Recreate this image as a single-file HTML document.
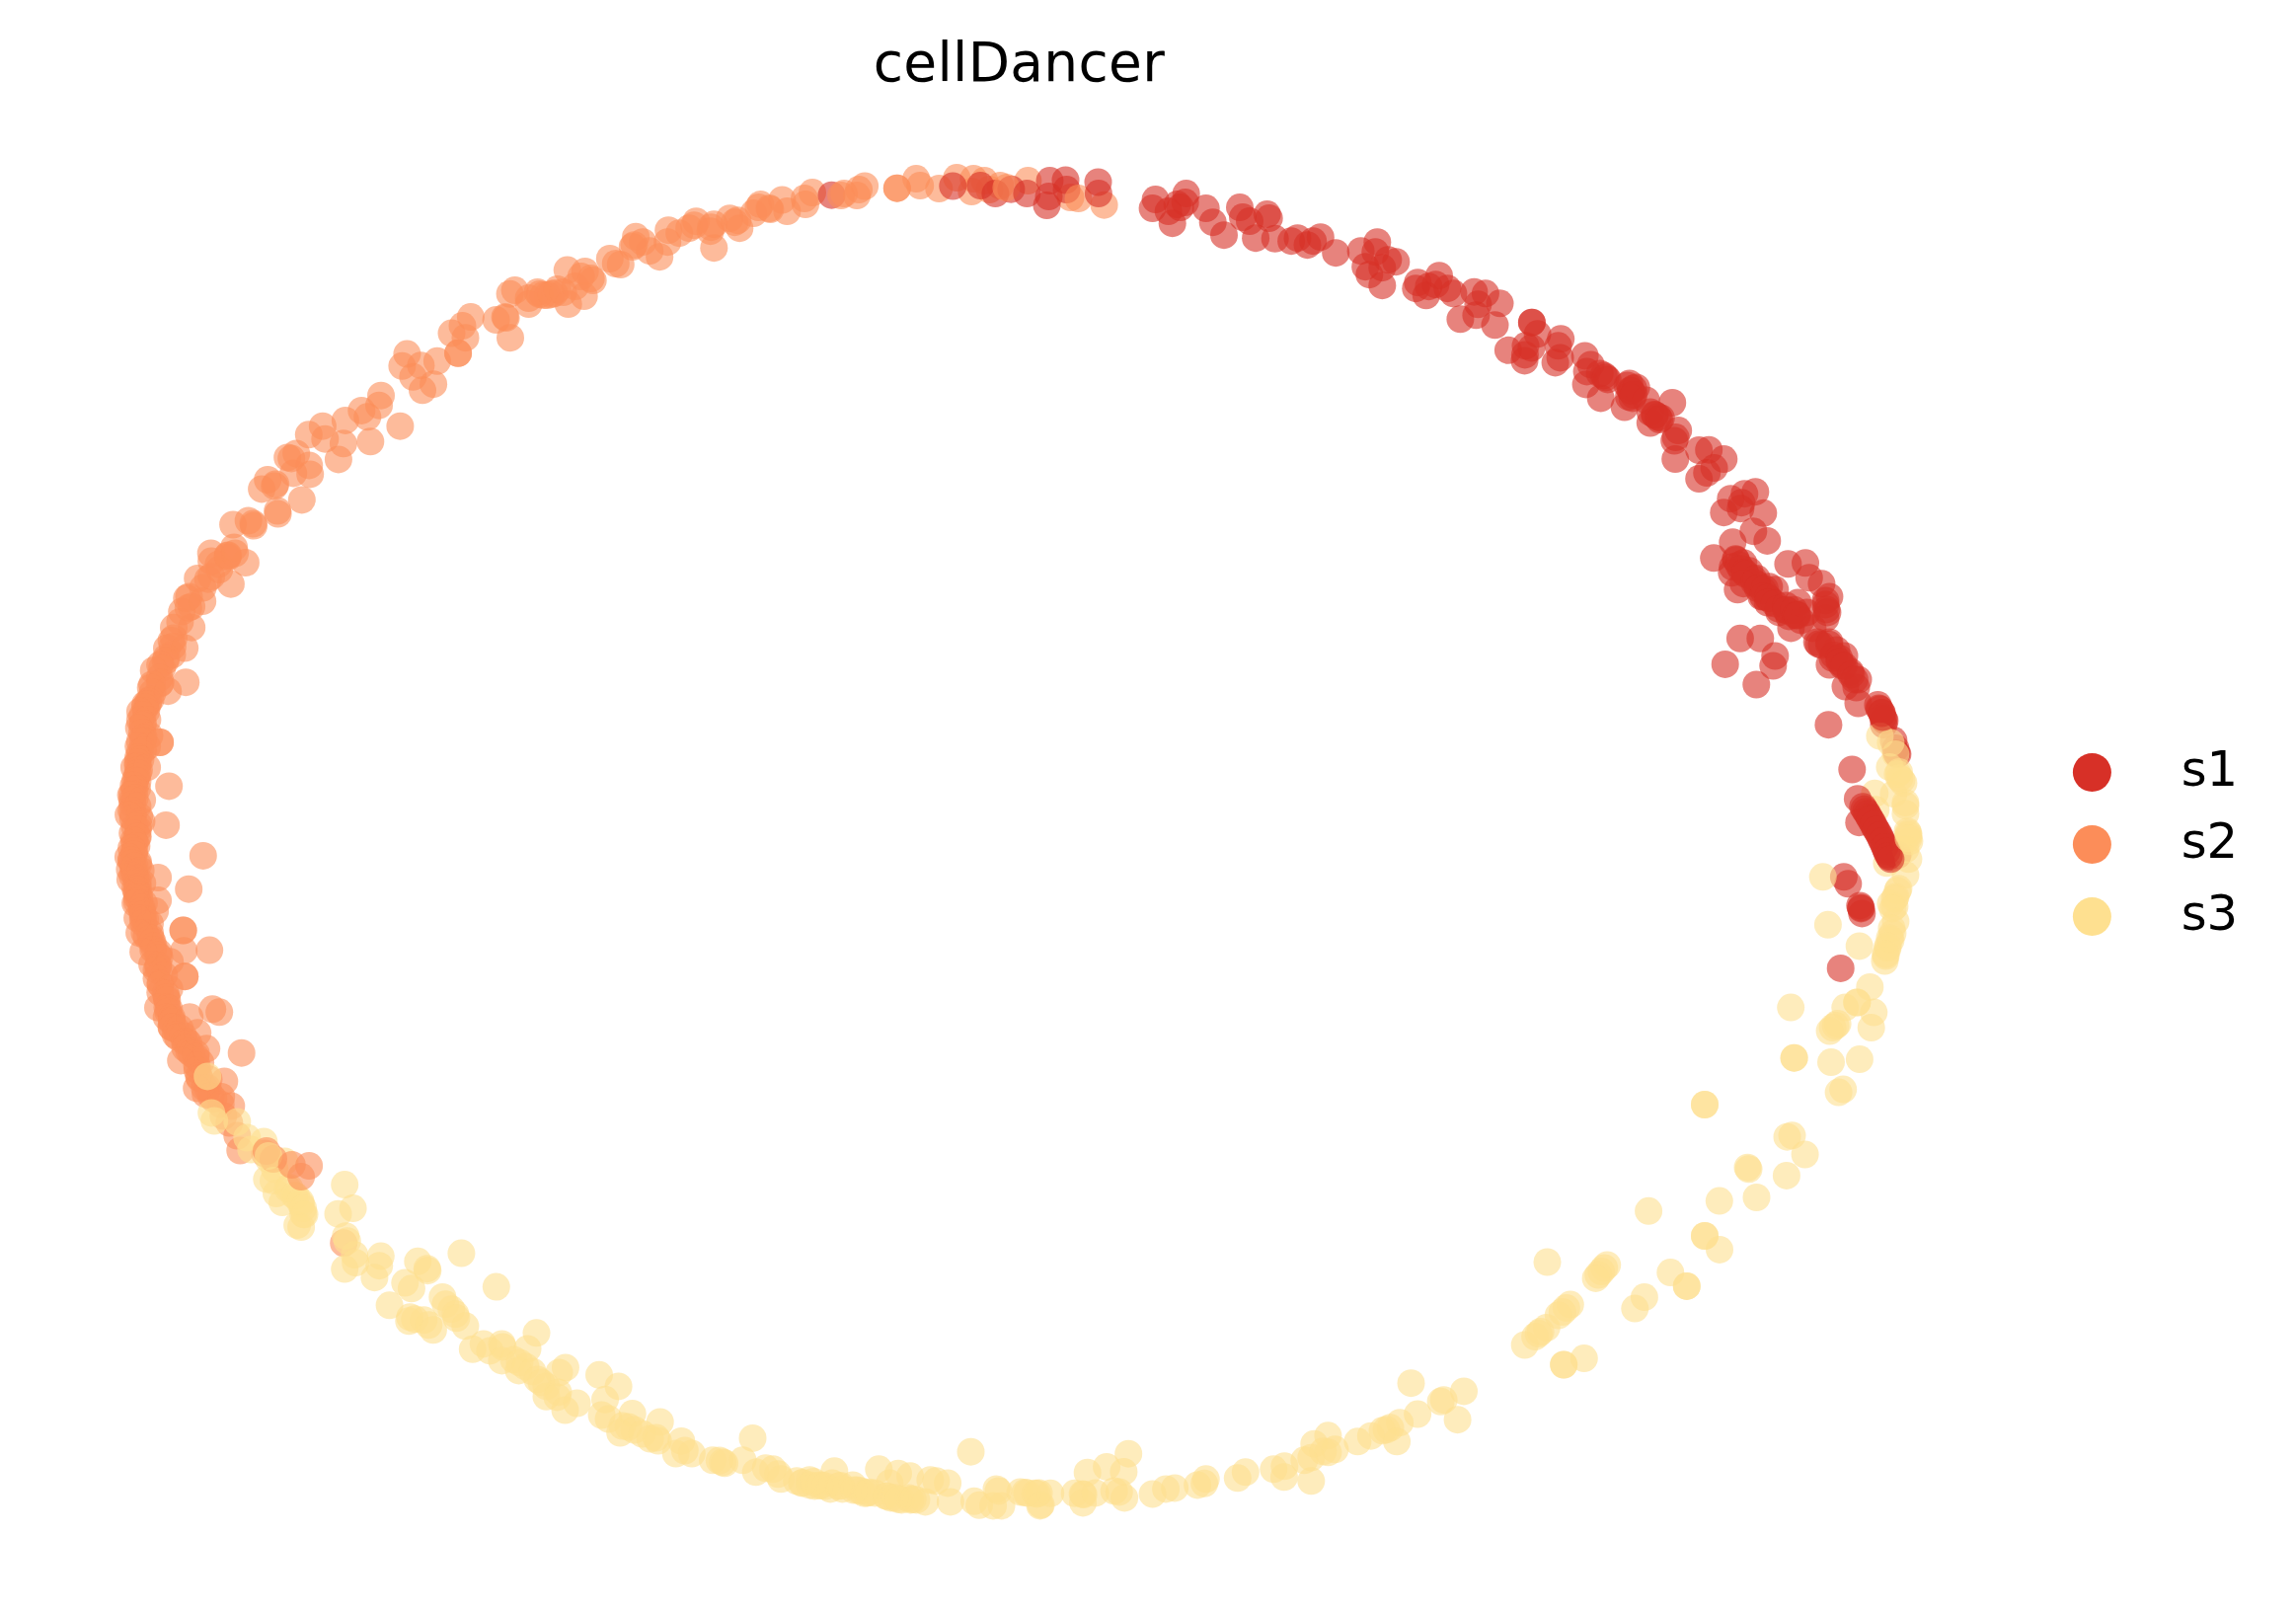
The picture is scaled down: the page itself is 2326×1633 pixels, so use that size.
<!DOCTYPE html><html><head><meta charset="utf-8"><title>cellDancer</title>
<style>html,body{margin:0;padding:0;background:#fff}body{width:2326px;height:1633px;overflow:hidden}svg{display:block}text{font-family:"DejaVu Sans","Liberation Sans",sans-serif;fill:#000}</style></head><body>
<svg width="2326" height="1633" viewBox="0 0 2326 1633">
<rect width="2326" height="1633" fill="#fff"/>
<g fill-opacity="0.6">
<circle cx="644.1" cy="239.8" r="14" fill="#fc8d59"/>
<circle cx="642.5" cy="248.2" r="14" fill="#fc8d59"/>
<circle cx="651.2" cy="245.2" r="14" fill="#fc8d59"/>
<circle cx="658.2" cy="254.2" r="14" fill="#fc8d59"/>
<circle cx="668.2" cy="260.2" r="14" fill="#fc8d59"/>
<circle cx="677.2" cy="233.2" r="14" fill="#fc8d59"/>
<circle cx="676.2" cy="245.2" r="14" fill="#fc8d59"/>
<circle cx="688.2" cy="236.2" r="14" fill="#fc8d59"/>
<circle cx="698.2" cy="231.2" r="14" fill="#fc8d59"/>
<circle cx="703.2" cy="228.2" r="14" fill="#fc8d59"/>
<circle cx="705.3" cy="224.2" r="14" fill="#fc8d59"/>
<circle cx="720.3" cy="230.2" r="14" fill="#fc8d59"/>
<circle cx="723.3" cy="227.2" r="14" fill="#fc8d59"/>
<circle cx="719.7" cy="234.2" r="14" fill="#fc8d59"/>
<circle cx="723.3" cy="251.2" r="14" fill="#fc8d59"/>
<circle cx="739.3" cy="221.2" r="14" fill="#fc8d59"/>
<circle cx="744.3" cy="225.2" r="14" fill="#fc8d59"/>
<circle cx="747.3" cy="223.2" r="14" fill="#fc8d59"/>
<circle cx="749.3" cy="231.2" r="14" fill="#fc8d59"/>
<circle cx="763.4" cy="216.1" r="14" fill="#fc8d59"/>
<circle cx="770.4" cy="207.1" r="14" fill="#fc8d59"/>
<circle cx="768.4" cy="210.1" r="14" fill="#fc8d59"/>
<circle cx="779.4" cy="211.1" r="14" fill="#fc8d59"/>
<circle cx="780.4" cy="212.1" r="14" fill="#fc8d59"/>
<circle cx="792.4" cy="202.5" r="14" fill="#fc8d59"/>
<circle cx="797.4" cy="214.1" r="14" fill="#fc8d59"/>
<circle cx="816.0" cy="207.1" r="14" fill="#fc8d59"/>
<circle cx="815.0" cy="201.1" r="14" fill="#fc8d59"/>
<circle cx="823.0" cy="195.1" r="14" fill="#fc8d59"/>
<circle cx="842.5" cy="197.7" r="14" fill="#d73027"/>
<circle cx="852.1" cy="198.1" r="14" fill="#fc8d59"/>
<circle cx="855.1" cy="196.1" r="14" fill="#fc8d59"/>
<circle cx="868.1" cy="198.1" r="14" fill="#fc8d59"/>
<circle cx="870.1" cy="192.1" r="14" fill="#fc8d59"/>
<circle cx="876.1" cy="188.5" r="14" fill="#fc8d59"/>
<circle cx="908.8" cy="190.7" r="14" fill="#fc8d59"/>
<circle cx="908.8" cy="190.7" r="14" fill="#fc8d59"/>
<circle cx="928.2" cy="181.1" r="14" fill="#fc8d59"/>
<circle cx="932.2" cy="188.1" r="14" fill="#fc8d59"/>
<circle cx="951.3" cy="191.1" r="14" fill="#fc8d59"/>
<circle cx="969.3" cy="180.1" r="14" fill="#fc8d59"/>
<circle cx="984.3" cy="194.1" r="14" fill="#fc8d59"/>
<circle cx="986.3" cy="181.1" r="14" fill="#fc8d59"/>
<circle cx="997.3" cy="183.1" r="14" fill="#fc8d59"/>
<circle cx="1002.4" cy="192.1" r="14" fill="#fc8d59"/>
<circle cx="1013.4" cy="188.1" r="14" fill="#fc8d59"/>
<circle cx="1041.4" cy="183.1" r="14" fill="#fc8d59"/>
<circle cx="965.3" cy="188.5" r="14" fill="#d73027"/>
<circle cx="993.3" cy="188.1" r="14" fill="#d73027"/>
<circle cx="1008.4" cy="196.1" r="14" fill="#d73027"/>
<circle cx="1024.4" cy="191.7" r="14" fill="#d73027"/>
<circle cx="1019.4" cy="190.1" r="14" fill="#fc8d59"/>
<circle cx="1084.5" cy="200.1" r="14" fill="#fc8d59"/>
<circle cx="1040.4" cy="196.1" r="14" fill="#d73027"/>
<circle cx="1063.5" cy="183.1" r="14" fill="#d73027"/>
<circle cx="1079.5" cy="182.5" r="14" fill="#d73027"/>
<circle cx="1080.5" cy="192.1" r="14" fill="#d73027"/>
<circle cx="1060.5" cy="208.1" r="14" fill="#d73027"/>
<circle cx="1062.5" cy="199.1" r="14" fill="#d73027"/>
<circle cx="1092.5" cy="201.1" r="14" fill="#fc8d59"/>
<circle cx="1118.6" cy="207.7" r="14" fill="#fc8d59"/>
<circle cx="1112.5" cy="184.5" r="14" fill="#d73027"/>
<circle cx="1112.9" cy="196.1" r="14" fill="#d73027"/>
<circle cx="1170.6" cy="202.1" r="14" fill="#d73027"/>
<circle cx="1167.6" cy="211.1" r="14" fill="#d73027"/>
<circle cx="1183.7" cy="214.1" r="14" fill="#d73027"/>
<circle cx="1187.7" cy="226.2" r="14" fill="#d73027"/>
<circle cx="1192.7" cy="207.1" r="14" fill="#d73027"/>
<circle cx="1201.7" cy="196.1" r="14" fill="#d73027"/>
<circle cx="1200.7" cy="205.1" r="14" fill="#d73027"/>
<circle cx="1195.7" cy="210.1" r="14" fill="#d73027"/>
<circle cx="1221.7" cy="211.1" r="14" fill="#d73027"/>
<circle cx="1228.7" cy="225.2" r="14" fill="#d73027"/>
<circle cx="1240.0" cy="238.2" r="14" fill="#d73027"/>
<circle cx="1256.0" cy="210.1" r="14" fill="#d73027"/>
<circle cx="1259.0" cy="220.1" r="14" fill="#d73027"/>
<circle cx="1266.0" cy="224.1" r="14" fill="#d73027"/>
<circle cx="1272.1" cy="241.2" r="14" fill="#d73027"/>
<circle cx="1283.7" cy="217.1" r="14" fill="#d73027"/>
<circle cx="1285.7" cy="221.1" r="14" fill="#d73027"/>
<circle cx="1291.7" cy="241.8" r="14" fill="#d73027"/>
<circle cx="1308.1" cy="244.2" r="14" fill="#d73027"/>
<circle cx="1314.5" cy="241.2" r="14" fill="#d73027"/>
<circle cx="1324.5" cy="248.2" r="14" fill="#d73027"/>
<circle cx="1330.2" cy="244.2" r="14" fill="#d73027"/>
<circle cx="1337.8" cy="240.2" r="14" fill="#d73027"/>
<circle cx="1353.2" cy="256.2" r="14" fill="#d73027"/>
<circle cx="1378.6" cy="254.2" r="14" fill="#d73027"/>
<circle cx="1383.2" cy="270.2" r="14" fill="#d73027"/>
<circle cx="1387.3" cy="278.2" r="14" fill="#d73027"/>
<circle cx="1393.3" cy="255.2" r="14" fill="#d73027"/>
<circle cx="1395.3" cy="245.2" r="14" fill="#d73027"/>
<circle cx="1400.3" cy="271.2" r="14" fill="#d73027"/>
<circle cx="1406.3" cy="263.2" r="14" fill="#d73027"/>
<circle cx="1414.3" cy="265.2" r="14" fill="#d73027"/>
<circle cx="1400.3" cy="289.2" r="14" fill="#d73027"/>
<circle cx="1434.3" cy="292.2" r="14" fill="#d73027"/>
<circle cx="1436.3" cy="286.2" r="14" fill="#d73027"/>
<circle cx="1444.8" cy="299.3" r="14" fill="#d73027"/>
<circle cx="1447.4" cy="290.2" r="14" fill="#d73027"/>
<circle cx="1454.4" cy="288.2" r="14" fill="#d73027"/>
<circle cx="1458.0" cy="279.2" r="14" fill="#d73027"/>
<circle cx="1466.4" cy="292.2" r="14" fill="#d73027"/>
<circle cx="1472.4" cy="297.3" r="14" fill="#d73027"/>
<circle cx="1479.4" cy="323.3" r="14" fill="#d73027"/>
<circle cx="1493.4" cy="295.7" r="14" fill="#d73027"/>
<circle cx="1497.4" cy="308.3" r="14" fill="#d73027"/>
<circle cx="1495.4" cy="319.3" r="14" fill="#d73027"/>
<circle cx="1504.9" cy="297.3" r="14" fill="#d73027"/>
<circle cx="1519.5" cy="307.3" r="14" fill="#d73027"/>
<circle cx="1514.5" cy="329.3" r="14" fill="#d73027"/>
<circle cx="1527.9" cy="354.8" r="14" fill="#d73027"/>
<circle cx="1551.9" cy="326.7" r="14" fill="#d73027"/>
<circle cx="1551.9" cy="326.7" r="14" fill="#d73027"/>
<circle cx="1557.6" cy="338.3" r="14" fill="#d73027"/>
<circle cx="1545.5" cy="350.3" r="14" fill="#d73027"/>
<circle cx="1544.9" cy="359.4" r="14" fill="#d73027"/>
<circle cx="1544.5" cy="365.4" r="14" fill="#d73027"/>
<circle cx="1551.5" cy="352.4" r="14" fill="#d73027"/>
<circle cx="1578.6" cy="350.3" r="14" fill="#d73027"/>
<circle cx="1581.2" cy="343.3" r="14" fill="#d73027"/>
<circle cx="1580.6" cy="362.4" r="14" fill="#d73027"/>
<circle cx="1575.6" cy="367.4" r="14" fill="#d73027"/>
<circle cx="1605.6" cy="360.4" r="14" fill="#d73027"/>
<circle cx="1611.6" cy="369.4" r="14" fill="#d73027"/>
<circle cx="1607.6" cy="376.4" r="14" fill="#d73027"/>
<circle cx="1606.6" cy="389.4" r="14" fill="#d73027"/>
<circle cx="1621.7" cy="403.4" r="14" fill="#d73027"/>
<circle cx="1624.7" cy="380.4" r="14" fill="#d73027"/>
<circle cx="1628.7" cy="384.4" r="14" fill="#d73027"/>
<circle cx="1620.7" cy="378.4" r="14" fill="#d73027"/>
<circle cx="1626.7" cy="382.4" r="14" fill="#d73027"/>
<circle cx="1648.7" cy="390.4" r="14" fill="#d73027"/>
<circle cx="1654.7" cy="393.4" r="14" fill="#d73027"/>
<circle cx="1651.7" cy="395.4" r="14" fill="#d73027"/>
<circle cx="1676.8" cy="420.5" r="14" fill="#d73027"/>
<circle cx="1682.8" cy="423.5" r="14" fill="#d73027"/>
<circle cx="1645.7" cy="412.5" r="14" fill="#d73027"/>
<circle cx="1650.7" cy="388.4" r="14" fill="#d73027"/>
<circle cx="1652.7" cy="396.4" r="14" fill="#d73027"/>
<circle cx="1657.7" cy="392.4" r="14" fill="#d73027"/>
<circle cx="1653.7" cy="403.4" r="14" fill="#d73027"/>
<circle cx="1667.7" cy="405.4" r="14" fill="#d73027"/>
<circle cx="1671.8" cy="417.5" r="14" fill="#d73027"/>
<circle cx="1671.8" cy="428.5" r="14" fill="#d73027"/>
<circle cx="1679.8" cy="422.5" r="14" fill="#d73027"/>
<circle cx="1694.2" cy="408.0" r="14" fill="#d73027"/>
<circle cx="1700.2" cy="436.1" r="14" fill="#d73027"/>
<circle cx="1697.6" cy="443.1" r="14" fill="#d73027"/>
<circle cx="1696.2" cy="446.5" r="14" fill="#d73027"/>
<circle cx="1697.2" cy="465.1" r="14" fill="#d73027"/>
<circle cx="1721.2" cy="456.1" r="14" fill="#d73027"/>
<circle cx="1731.2" cy="455.7" r="14" fill="#d73027"/>
<circle cx="1746.3" cy="465.1" r="14" fill="#d73027"/>
<circle cx="1736.6" cy="474.1" r="14" fill="#d73027"/>
<circle cx="1729.2" cy="479.1" r="14" fill="#d73027"/>
<circle cx="1721.2" cy="485.1" r="14" fill="#d73027"/>
<circle cx="1753.3" cy="505.2" r="14" fill="#d73027"/>
<circle cx="1767.3" cy="500.2" r="14" fill="#d73027"/>
<circle cx="1778.3" cy="498.2" r="14" fill="#d73027"/>
<circle cx="1764.3" cy="509.2" r="14" fill="#d73027"/>
<circle cx="1763.3" cy="515.2" r="14" fill="#d73027"/>
<circle cx="1746.3" cy="519.2" r="14" fill="#d73027"/>
<circle cx="1786.3" cy="519.8" r="14" fill="#d73027"/>
<circle cx="1776.3" cy="538.2" r="14" fill="#d73027"/>
<circle cx="1790.3" cy="547.9" r="14" fill="#d73027"/>
<circle cx="1755.3" cy="549.3" r="14" fill="#d73027"/>
<circle cx="1736.2" cy="565.3" r="14" fill="#d73027"/>
<circle cx="1758.3" cy="566.3" r="14" fill="#d73027"/>
<circle cx="1766.3" cy="570.3" r="14" fill="#d73027"/>
<circle cx="1755.3" cy="574.3" r="14" fill="#d73027"/>
<circle cx="1754.3" cy="580.3" r="14" fill="#d73027"/>
<circle cx="1772.3" cy="578.3" r="14" fill="#d73027"/>
<circle cx="1760.3" cy="597.3" r="14" fill="#d73027"/>
<circle cx="1776.3" cy="586.3" r="14" fill="#d73027"/>
<circle cx="1780.3" cy="592.3" r="14" fill="#d73027"/>
<circle cx="1786.3" cy="598.3" r="14" fill="#d73027"/>
<circle cx="1792.3" cy="594.3" r="14" fill="#d73027"/>
<circle cx="1798.3" cy="597.3" r="14" fill="#d73027"/>
<circle cx="1784.3" cy="604.4" r="14" fill="#d73027"/>
<circle cx="1792.3" cy="606.4" r="14" fill="#d73027"/>
<circle cx="1811.4" cy="571.3" r="14" fill="#d73027"/>
<circle cx="1829.0" cy="570.3" r="14" fill="#d73027"/>
<circle cx="1832.8" cy="585.3" r="14" fill="#d73027"/>
<circle cx="1845.4" cy="591.3" r="14" fill="#d73027"/>
<circle cx="1853.4" cy="604.4" r="14" fill="#d73027"/>
<circle cx="1849.4" cy="608.4" r="14" fill="#d73027"/>
<circle cx="1850.4" cy="617.4" r="14" fill="#d73027"/>
<circle cx="1849.4" cy="626.4" r="14" fill="#d73027"/>
<circle cx="1821.4" cy="610.4" r="14" fill="#d73027"/>
<circle cx="1810.4" cy="618.4" r="14" fill="#d73027"/>
<circle cx="1802.4" cy="620.4" r="14" fill="#d73027"/>
<circle cx="1812.4" cy="624.4" r="14" fill="#d73027"/>
<circle cx="1820.4" cy="622.4" r="14" fill="#d73027"/>
<circle cx="1830.4" cy="620.4" r="14" fill="#d73027"/>
<circle cx="1824.4" cy="628.4" r="14" fill="#d73027"/>
<circle cx="1814.4" cy="636.4" r="14" fill="#d73027"/>
<circle cx="1836.4" cy="636.4" r="14" fill="#d73027"/>
<circle cx="1842.4" cy="652.4" r="14" fill="#d73027"/>
<circle cx="1853.4" cy="650.4" r="14" fill="#d73027"/>
<circle cx="1860.5" cy="658.4" r="14" fill="#d73027"/>
<circle cx="1868.5" cy="664.5" r="14" fill="#d73027"/>
<circle cx="1856.4" cy="666.5" r="14" fill="#d73027"/>
<circle cx="1853.4" cy="673.5" r="14" fill="#d73027"/>
<circle cx="1866.5" cy="674.5" r="14" fill="#d73027"/>
<circle cx="1874.5" cy="680.5" r="14" fill="#d73027"/>
<circle cx="1882.5" cy="688.5" r="14" fill="#d73027"/>
<circle cx="1869.5" cy="695.5" r="14" fill="#d73027"/>
<circle cx="1880.5" cy="696.5" r="14" fill="#d73027"/>
<circle cx="1882.5" cy="712.5" r="14" fill="#d73027"/>
<circle cx="1903.5" cy="717.6" r="14" fill="#d73027"/>
<circle cx="1908.5" cy="728.6" r="14" fill="#d73027"/>
<circle cx="1852.4" cy="734.2" r="14" fill="#d73027"/>
<circle cx="1762.9" cy="646.8" r="14" fill="#d73027"/>
<circle cx="1783.3" cy="646.8" r="14" fill="#d73027"/>
<circle cx="1798.3" cy="664.5" r="14" fill="#d73027"/>
<circle cx="1796.3" cy="674.5" r="14" fill="#d73027"/>
<circle cx="1747.7" cy="672.9" r="14" fill="#d73027"/>
<circle cx="1779.3" cy="693.5" r="14" fill="#d73027"/>
<circle cx="1900.3" cy="820.2" r="14" fill="#fee090"/>
<circle cx="1899.3" cy="803.8" r="14" fill="#fee090"/>
<circle cx="1911.4" cy="874.3" r="14" fill="#fee090"/>
<circle cx="1924.4" cy="862.3" r="14" fill="#fee090"/>
<circle cx="1918.4" cy="804.2" r="14" fill="#fee090"/>
<circle cx="1902.4" cy="714.0" r="14" fill="#d73027"/>
<circle cx="1906.4" cy="722.0" r="14" fill="#d73027"/>
<circle cx="1909.4" cy="730.1" r="14" fill="#d73027"/>
<circle cx="1908.4" cy="734.1" r="14" fill="#d73027"/>
<circle cx="1918.4" cy="750.1" r="14" fill="#d73027"/>
<circle cx="1921.4" cy="763.1" r="14" fill="#d73027"/>
<circle cx="1920.4" cy="758.1" r="14" fill="#d73027"/>
<circle cx="1922.4" cy="764.1" r="14" fill="#d73027"/>
<circle cx="1876.3" cy="779.5" r="14" fill="#d73027"/>
<circle cx="1881.9" cy="809.2" r="14" fill="#d73027"/>
<circle cx="1883.3" cy="833.2" r="14" fill="#d73027"/>
<circle cx="1887.3" cy="817.2" r="14" fill="#d73027"/>
<circle cx="1890.3" cy="822.2" r="14" fill="#d73027"/>
<circle cx="1893.3" cy="827.2" r="14" fill="#d73027"/>
<circle cx="1896.3" cy="832.2" r="14" fill="#d73027"/>
<circle cx="1899.3" cy="838.2" r="14" fill="#d73027"/>
<circle cx="1902.4" cy="843.2" r="14" fill="#d73027"/>
<circle cx="1905.4" cy="849.3" r="14" fill="#d73027"/>
<circle cx="1908.4" cy="855.3" r="14" fill="#d73027"/>
<circle cx="1910.4" cy="860.3" r="14" fill="#d73027"/>
<circle cx="1912.4" cy="865.3" r="14" fill="#d73027"/>
<circle cx="1914.4" cy="868.3" r="14" fill="#d73027"/>
<circle cx="1922.4" cy="866.3" r="14" fill="#d73027"/>
<circle cx="1867.9" cy="888.3" r="14" fill="#d73027"/>
<circle cx="1872.3" cy="895.3" r="14" fill="#d73027"/>
<circle cx="1884.3" cy="917.4" r="14" fill="#d73027"/>
<circle cx="1885.3" cy="920.4" r="14" fill="#d73027"/>
<circle cx="1886.3" cy="925.4" r="14" fill="#d73027"/>
<circle cx="1864.7" cy="980.9" r="14" fill="#d73027"/>
<circle cx="1904.4" cy="745.7" r="14" fill="#fee090"/>
<circle cx="1915.4" cy="752.5" r="14" fill="#fee090"/>
<circle cx="1920.4" cy="764.1" r="14" fill="#fee090"/>
<circle cx="1914.4" cy="777.1" r="14" fill="#fee090"/>
<circle cx="1924.0" cy="782.1" r="14" fill="#fee090"/>
<circle cx="1924.4" cy="788.2" r="14" fill="#fee090"/>
<circle cx="1928.4" cy="793.2" r="14" fill="#fee090"/>
<circle cx="1930.4" cy="813.2" r="14" fill="#fee090"/>
<circle cx="1930.4" cy="824.2" r="14" fill="#fee090"/>
<circle cx="1932.4" cy="842.2" r="14" fill="#fee090"/>
<circle cx="1933.4" cy="846.3" r="14" fill="#fee090"/>
<circle cx="1934.4" cy="852.3" r="14" fill="#fee090"/>
<circle cx="1930.4" cy="860.3" r="14" fill="#fee090"/>
<circle cx="1933.4" cy="870.3" r="14" fill="#fee090"/>
<circle cx="1930.4" cy="886.3" r="14" fill="#fee090"/>
<circle cx="1923.4" cy="900.3" r="14" fill="#fee090"/>
<circle cx="1920.4" cy="908.4" r="14" fill="#fee090"/>
<circle cx="1915.4" cy="915.4" r="14" fill="#fee090"/>
<circle cx="1919.4" cy="918.4" r="14" fill="#fee090"/>
<circle cx="1920.4" cy="933.4" r="14" fill="#fee090"/>
<circle cx="1917.4" cy="945.4" r="14" fill="#fee090"/>
<circle cx="1915.4" cy="952.4" r="14" fill="#fee090"/>
<circle cx="1912.4" cy="960.5" r="14" fill="#fee090"/>
<circle cx="1910.4" cy="968.5" r="14" fill="#fee090"/>
<circle cx="1909.4" cy="973.5" r="14" fill="#fee090"/>
<circle cx="1846.7" cy="888.3" r="14" fill="#fee090"/>
<circle cx="1851.9" cy="936.8" r="14" fill="#fee090"/>
<circle cx="1883.7" cy="958.4" r="14" fill="#fee090"/>
<circle cx="1894.3" cy="999.9" r="14" fill="#fee090"/>
<circle cx="1814.2" cy="1020.6" r="14" fill="#fee090"/>
<circle cx="1869.3" cy="1020.6" r="14" fill="#fee090"/>
<circle cx="1881.3" cy="1015.5" r="14" fill="#fee090"/>
<circle cx="1898.3" cy="1025.6" r="14" fill="#fee090"/>
<circle cx="1861.6" cy="1037.1" r="14" fill="#fee090"/>
<circle cx="1859.6" cy="1039.1" r="14" fill="#fee090"/>
<circle cx="1856.6" cy="1041.1" r="14" fill="#fee090"/>
<circle cx="1853.6" cy="1044.5" r="14" fill="#fee090"/>
<circle cx="1895.7" cy="1041.1" r="14" fill="#fee090"/>
<circle cx="1817.6" cy="1071.7" r="14" fill="#fee090"/>
<circle cx="1817.6" cy="1071.7" r="14" fill="#fee090"/>
<circle cx="1855.0" cy="1076.1" r="14" fill="#fee090"/>
<circle cx="1883.9" cy="1073.1" r="14" fill="#fee090"/>
<circle cx="1867.2" cy="1103.6" r="14" fill="#fee090"/>
<circle cx="1862.6" cy="1106.6" r="14" fill="#fee090"/>
<circle cx="1727.0" cy="1119.0" r="14" fill="#fee090"/>
<circle cx="1727.0" cy="1119.0" r="14" fill="#fee090"/>
<circle cx="1815.5" cy="1150.3" r="14" fill="#fee090"/>
<circle cx="1810.5" cy="1151.7" r="14" fill="#fee090"/>
<circle cx="1828.6" cy="1169.5" r="14" fill="#fee090"/>
<circle cx="1770.5" cy="1182.7" r="14" fill="#fee090"/>
<circle cx="1771.5" cy="1184.3" r="14" fill="#fee090"/>
<circle cx="1809.9" cy="1190.9" r="14" fill="#fee090"/>
<circle cx="1779.5" cy="1213.0" r="14" fill="#fee090"/>
<circle cx="1741.8" cy="1216.6" r="14" fill="#fee090"/>
<circle cx="1670.1" cy="1226.8" r="14" fill="#fee090"/>
<circle cx="1727.0" cy="1252.0" r="14" fill="#fee090"/>
<circle cx="1727.0" cy="1252.0" r="14" fill="#fee090"/>
<circle cx="1742.0" cy="1265.9" r="14" fill="#fee090"/>
<circle cx="1567.5" cy="1278.5" r="14" fill="#fee090"/>
<circle cx="1628.2" cy="1281.5" r="14" fill="#fee090"/>
<circle cx="1625.2" cy="1284.5" r="14" fill="#fee090"/>
<circle cx="1622.2" cy="1288.1" r="14" fill="#fee090"/>
<circle cx="1619.2" cy="1291.5" r="14" fill="#fee090"/>
<circle cx="1616.6" cy="1294.9" r="14" fill="#fee090"/>
<circle cx="1692.3" cy="1289.1" r="14" fill="#fee090"/>
<circle cx="1708.8" cy="1302.9" r="14" fill="#fee090"/>
<circle cx="1708.8" cy="1302.9" r="14" fill="#fee090"/>
<circle cx="1665.9" cy="1314.1" r="14" fill="#fee090"/>
<circle cx="1656.3" cy="1325.6" r="14" fill="#fee090"/>
<circle cx="1590.8" cy="1321.6" r="14" fill="#fee090"/>
<circle cx="1586.8" cy="1325.0" r="14" fill="#fee090"/>
<circle cx="1578.8" cy="1332.5" r="14" fill="#fee090"/>
<circle cx="1566.7" cy="1345.1" r="14" fill="#fee090"/>
<circle cx="1560.7" cy="1349.1" r="14" fill="#fee090"/>
<circle cx="1555.1" cy="1354.1" r="14" fill="#fee090"/>
<circle cx="1544.7" cy="1362.5" r="14" fill="#fee090"/>
<circle cx="1584.2" cy="1382.5" r="14" fill="#fee090"/>
<circle cx="1584.2" cy="1382.5" r="14" fill="#fee090"/>
<circle cx="1604.8" cy="1376.1" r="14" fill="#fee090"/>
<circle cx="1429.5" cy="1401.2" r="14" fill="#fee090"/>
<circle cx="1483.0" cy="1409.4" r="14" fill="#fee090"/>
<circle cx="1462.6" cy="1418.2" r="14" fill="#fee090"/>
<circle cx="1459.6" cy="1419.8" r="14" fill="#fee090"/>
<circle cx="1476.6" cy="1438.2" r="14" fill="#fee090"/>
<circle cx="1436.1" cy="1432.6" r="14" fill="#fee090"/>
<circle cx="1418.1" cy="1441.2" r="14" fill="#fee090"/>
<circle cx="1408.5" cy="1446.3" r="14" fill="#fee090"/>
<circle cx="1404.5" cy="1448.3" r="14" fill="#fee090"/>
<circle cx="1400.5" cy="1449.3" r="14" fill="#fee090"/>
<circle cx="1415.1" cy="1460.3" r="14" fill="#fee090"/>
<circle cx="1388.8" cy="1454.7" r="14" fill="#fee090"/>
<circle cx="1375.4" cy="1460.3" r="14" fill="#fee090"/>
<circle cx="1345.4" cy="1454.3" r="14" fill="#fee090"/>
<circle cx="1331.3" cy="1462.7" r="14" fill="#fee090"/>
<circle cx="1352.4" cy="1468.3" r="14" fill="#fee090"/>
<circle cx="1345.4" cy="1471.3" r="14" fill="#fee090"/>
<circle cx="1340.3" cy="1470.3" r="14" fill="#fee090"/>
<circle cx="1328.3" cy="1476.7" r="14" fill="#fee090"/>
<circle cx="1321.3" cy="1479.3" r="14" fill="#fee090"/>
<circle cx="1301.3" cy="1485.3" r="14" fill="#fee090"/>
<circle cx="1290.3" cy="1488.3" r="14" fill="#fee090"/>
<circle cx="1300.9" cy="1496.3" r="14" fill="#fee090"/>
<circle cx="1328.3" cy="1500.3" r="14" fill="#fee090"/>
<circle cx="1261.8" cy="1491.3" r="14" fill="#fee090"/>
<circle cx="1253.8" cy="1497.3" r="14" fill="#fee090"/>
<circle cx="1221.7" cy="1498.3" r="14" fill="#fee090"/>
<circle cx="1220.1" cy="1502.8" r="14" fill="#fee090"/>
<circle cx="1213.1" cy="1504.4" r="14" fill="#fee090"/>
<circle cx="1190.1" cy="1507.4" r="14" fill="#fee090"/>
<circle cx="1181.1" cy="1508.4" r="14" fill="#fee090"/>
<circle cx="1167.6" cy="1513.4" r="14" fill="#fee090"/>
<circle cx="762.5" cy="1456.9" r="14" fill="#fee090"/>
<circle cx="722.0" cy="1479.3" r="14" fill="#fee090"/>
<circle cx="732.1" cy="1481.3" r="14" fill="#fee090"/>
<circle cx="734.1" cy="1482.3" r="14" fill="#fee090"/>
<circle cx="752.5" cy="1479.3" r="14" fill="#fee090"/>
<circle cx="765.7" cy="1491.3" r="14" fill="#fee090"/>
<circle cx="775.7" cy="1487.3" r="14" fill="#fee090"/>
<circle cx="783.1" cy="1488.3" r="14" fill="#fee090"/>
<circle cx="788.2" cy="1493.3" r="14" fill="#fee090"/>
<circle cx="791.2" cy="1498.3" r="14" fill="#fee090"/>
<circle cx="807.2" cy="1500.3" r="14" fill="#fee090"/>
<circle cx="812.2" cy="1502.4" r="14" fill="#fee090"/>
<circle cx="820.2" cy="1499.3" r="14" fill="#fee090"/>
<circle cx="820.2" cy="1504.4" r="14" fill="#fee090"/>
<circle cx="825.2" cy="1505.4" r="14" fill="#fee090"/>
<circle cx="832.2" cy="1504.4" r="14" fill="#fee090"/>
<circle cx="845.3" cy="1490.3" r="14" fill="#fee090"/>
<circle cx="843.2" cy="1502.4" r="14" fill="#fee090"/>
<circle cx="841.2" cy="1508.4" r="14" fill="#fee090"/>
<circle cx="853.3" cy="1508.4" r="14" fill="#fee090"/>
<circle cx="863.9" cy="1504.4" r="14" fill="#fee090"/>
<circle cx="868.3" cy="1509.4" r="14" fill="#fee090"/>
<circle cx="872.3" cy="1510.4" r="14" fill="#fee090"/>
<circle cx="878.3" cy="1512.4" r="14" fill="#fee090"/>
<circle cx="886.3" cy="1512.4" r="14" fill="#fee090"/>
<circle cx="890.3" cy="1488.3" r="14" fill="#fee090"/>
<circle cx="901.4" cy="1502.4" r="14" fill="#fee090"/>
<circle cx="910.0" cy="1492.7" r="14" fill="#fee090"/>
<circle cx="922.0" cy="1495.3" r="14" fill="#fee090"/>
<circle cx="897.3" cy="1515.4" r="14" fill="#fee090"/>
<circle cx="902.4" cy="1517.4" r="14" fill="#fee090"/>
<circle cx="913.4" cy="1519.4" r="14" fill="#fee090"/>
<circle cx="920.4" cy="1517.4" r="14" fill="#fee090"/>
<circle cx="922.4" cy="1519.4" r="14" fill="#fee090"/>
<circle cx="928.4" cy="1519.4" r="14" fill="#fee090"/>
<circle cx="937.4" cy="1521.4" r="14" fill="#fee090"/>
<circle cx="942.4" cy="1499.3" r="14" fill="#fee090"/>
<circle cx="948.4" cy="1500.3" r="14" fill="#fee090"/>
<circle cx="960.1" cy="1502.4" r="14" fill="#fee090"/>
<circle cx="962.9" cy="1521.4" r="14" fill="#fee090"/>
<circle cx="983.5" cy="1470.7" r="14" fill="#fee090"/>
<circle cx="986.9" cy="1520.8" r="14" fill="#fee090"/>
<circle cx="992.1" cy="1524.8" r="14" fill="#fee090"/>
<circle cx="1006.1" cy="1525.4" r="14" fill="#fee090"/>
<circle cx="1014.5" cy="1525.4" r="14" fill="#fee090"/>
<circle cx="1009.5" cy="1508.4" r="14" fill="#fee090"/>
<circle cx="1011.5" cy="1510.4" r="14" fill="#fee090"/>
<circle cx="1033.6" cy="1511.4" r="14" fill="#fee090"/>
<circle cx="1038.6" cy="1512.0" r="14" fill="#fee090"/>
<circle cx="1048.6" cy="1512.8" r="14" fill="#fee090"/>
<circle cx="1052.6" cy="1512.4" r="14" fill="#fee090"/>
<circle cx="1053.6" cy="1525.4" r="14" fill="#fee090"/>
<circle cx="1054.6" cy="1524.4" r="14" fill="#fee090"/>
<circle cx="1064.2" cy="1512.8" r="14" fill="#fee090"/>
<circle cx="1088.7" cy="1512.8" r="14" fill="#fee090"/>
<circle cx="1096.7" cy="1513.4" r="14" fill="#fee090"/>
<circle cx="1097.7" cy="1514.0" r="14" fill="#fee090"/>
<circle cx="1097.1" cy="1522.4" r="14" fill="#fee090"/>
<circle cx="1109.7" cy="1512.4" r="14" fill="#fee090"/>
<circle cx="1101.7" cy="1491.7" r="14" fill="#fee090"/>
<circle cx="1121.1" cy="1485.9" r="14" fill="#fee090"/>
<circle cx="1143.2" cy="1472.7" r="14" fill="#fee090"/>
<circle cx="1138.4" cy="1490.9" r="14" fill="#fee090"/>
<circle cx="1128.7" cy="1510.4" r="14" fill="#fee090"/>
<circle cx="1133.8" cy="1511.4" r="14" fill="#fee090"/>
<circle cx="1139.2" cy="1517.4" r="14" fill="#fee090"/>
<circle cx="133.0" cy="870.6" r="14" fill="#fc8d59"/>
<circle cx="139.9" cy="872.8" r="14" fill="#fc8d59"/>
<circle cx="140.1" cy="875.9" r="14" fill="#fc8d59"/>
<circle cx="135.3" cy="879.6" r="14" fill="#fc8d59"/>
<circle cx="131.4" cy="880.7" r="14" fill="#fc8d59"/>
<circle cx="136.0" cy="883.7" r="14" fill="#fc8d59"/>
<circle cx="134.2" cy="887.2" r="14" fill="#fc8d59"/>
<circle cx="137.4" cy="889.3" r="14" fill="#fc8d59"/>
<circle cx="131.9" cy="891.1" r="14" fill="#fc8d59"/>
<circle cx="139.7" cy="892.6" r="14" fill="#fc8d59"/>
<circle cx="144.3" cy="894.8" r="14" fill="#fc8d59"/>
<circle cx="139.9" cy="898.7" r="14" fill="#fc8d59"/>
<circle cx="138.9" cy="901.0" r="14" fill="#fc8d59"/>
<circle cx="138.2" cy="903.7" r="14" fill="#fc8d59"/>
<circle cx="140.8" cy="906.6" r="14" fill="#fc8d59"/>
<circle cx="138.9" cy="908.9" r="14" fill="#fc8d59"/>
<circle cx="141.4" cy="911.3" r="14" fill="#fc8d59"/>
<circle cx="138.7" cy="913.6" r="14" fill="#fc8d59"/>
<circle cx="145.9" cy="915.1" r="14" fill="#fc8d59"/>
<circle cx="143.6" cy="919.6" r="14" fill="#fc8d59"/>
<circle cx="144.0" cy="923.0" r="14" fill="#fc8d59"/>
<circle cx="144.7" cy="926.3" r="14" fill="#fc8d59"/>
<circle cx="144.7" cy="930.1" r="14" fill="#fc8d59"/>
<circle cx="147.1" cy="931.5" r="14" fill="#fc8d59"/>
<circle cx="145.3" cy="935.0" r="14" fill="#fc8d59"/>
<circle cx="152.0" cy="935.6" r="14" fill="#fc8d59"/>
<circle cx="146.4" cy="945.0" r="14" fill="#fc8d59"/>
<circle cx="152.1" cy="945.2" r="14" fill="#fc8d59"/>
<circle cx="148.5" cy="948.7" r="14" fill="#fc8d59"/>
<circle cx="152.8" cy="950.5" r="14" fill="#fc8d59"/>
<circle cx="154.5" cy="954.1" r="14" fill="#fc8d59"/>
<circle cx="155.5" cy="958.6" r="14" fill="#fc8d59"/>
<circle cx="155.2" cy="961.9" r="14" fill="#fc8d59"/>
<circle cx="160.9" cy="964.8" r="14" fill="#fc8d59"/>
<circle cx="160.1" cy="967.7" r="14" fill="#fc8d59"/>
<circle cx="161.6" cy="970.0" r="14" fill="#fc8d59"/>
<circle cx="154.1" cy="976.9" r="14" fill="#fc8d59"/>
<circle cx="160.4" cy="978.1" r="14" fill="#fc8d59"/>
<circle cx="160.2" cy="980.1" r="14" fill="#fc8d59"/>
<circle cx="158.5" cy="982.7" r="14" fill="#fc8d59"/>
<circle cx="166.3" cy="988.0" r="14" fill="#fc8d59"/>
<circle cx="158.5" cy="991.2" r="14" fill="#fc8d59"/>
<circle cx="162.5" cy="996.5" r="14" fill="#fc8d59"/>
<circle cx="162.7" cy="997.4" r="14" fill="#fc8d59"/>
<circle cx="171.7" cy="1001.7" r="14" fill="#fc8d59"/>
<circle cx="162.3" cy="1005.2" r="14" fill="#fc8d59"/>
<circle cx="167.8" cy="1006.5" r="14" fill="#fc8d59"/>
<circle cx="168.7" cy="1010.4" r="14" fill="#fc8d59"/>
<circle cx="169.3" cy="1013.2" r="14" fill="#fc8d59"/>
<circle cx="160.0" cy="1020.7" r="14" fill="#fc8d59"/>
<circle cx="169.5" cy="1020.6" r="14" fill="#fc8d59"/>
<circle cx="171.3" cy="1021.8" r="14" fill="#fc8d59"/>
<circle cx="170.2" cy="1024.7" r="14" fill="#fc8d59"/>
<circle cx="168.7" cy="1030.4" r="14" fill="#fc8d59"/>
<circle cx="174.0" cy="1030.9" r="14" fill="#fc8d59"/>
<circle cx="174.1" cy="1033.6" r="14" fill="#fc8d59"/>
<circle cx="174.0" cy="1035.1" r="14" fill="#fc8d59"/>
<circle cx="173.5" cy="1040.3" r="14" fill="#fc8d59"/>
<circle cx="173.9" cy="1040.8" r="14" fill="#fc8d59"/>
<circle cx="178.3" cy="1042.9" r="14" fill="#fc8d59"/>
<circle cx="182.2" cy="1041.6" r="14" fill="#fc8d59"/>
<circle cx="177.9" cy="1048.6" r="14" fill="#fc8d59"/>
<circle cx="180.1" cy="1050.6" r="14" fill="#fc8d59"/>
<circle cx="185.7" cy="1049.2" r="14" fill="#fc8d59"/>
<circle cx="187.2" cy="1055.3" r="14" fill="#fc8d59"/>
<circle cx="189.2" cy="1055.2" r="14" fill="#fc8d59"/>
<circle cx="191.1" cy="1056.6" r="14" fill="#fc8d59"/>
<circle cx="187.6" cy="1061.8" r="14" fill="#fc8d59"/>
<circle cx="191.6" cy="1065.0" r="14" fill="#fc8d59"/>
<circle cx="194.1" cy="1067.4" r="14" fill="#fc8d59"/>
<circle cx="198.6" cy="1067.2" r="14" fill="#fc8d59"/>
<circle cx="198.3" cy="1070.7" r="14" fill="#fc8d59"/>
<circle cx="203.1" cy="1076.2" r="14" fill="#fc8d59"/>
<circle cx="199.5" cy="1079.2" r="14" fill="#fc8d59"/>
<circle cx="199.8" cy="1083.9" r="14" fill="#fc8d59"/>
<circle cx="201.4" cy="1090.3" r="14" fill="#fc8d59"/>
<circle cx="202.2" cy="1092.4" r="14" fill="#fc8d59"/>
<circle cx="211.5" cy="1093.2" r="14" fill="#fc8d59"/>
<circle cx="207.3" cy="1101.9" r="14" fill="#fc8d59"/>
<circle cx="210.5" cy="1102.3" r="14" fill="#fc8d59"/>
<circle cx="213.7" cy="1110.2" r="14" fill="#fc8d59"/>
<circle cx="216.3" cy="1113.2" r="14" fill="#fc8d59"/>
<circle cx="224.2" cy="1110.9" r="14" fill="#fc8d59"/>
<circle cx="223.7" cy="1118.7" r="14" fill="#fc8d59"/>
<circle cx="160.1" cy="889.0" r="14" fill="#fc8d59"/>
<circle cx="160.1" cy="912.1" r="14" fill="#fc8d59"/>
<circle cx="191.2" cy="900.7" r="14" fill="#fc8d59"/>
<circle cx="157.1" cy="923.1" r="14" fill="#fc8d59"/>
<circle cx="137.1" cy="900.1" r="14" fill="#fc8d59"/>
<circle cx="137.1" cy="915.1" r="14" fill="#fc8d59"/>
<circle cx="139.1" cy="930.1" r="14" fill="#fc8d59"/>
<circle cx="141.1" cy="945.1" r="14" fill="#fc8d59"/>
<circle cx="145.1" cy="964.2" r="14" fill="#fc8d59"/>
<circle cx="185.6" cy="942.5" r="14" fill="#fc8d59"/>
<circle cx="185.6" cy="942.5" r="14" fill="#fc8d59"/>
<circle cx="186.2" cy="963.2" r="14" fill="#fc8d59"/>
<circle cx="212.2" cy="962.6" r="14" fill="#fc8d59"/>
<circle cx="187.2" cy="989.2" r="14" fill="#fc8d59"/>
<circle cx="187.2" cy="989.2" r="14" fill="#fc8d59"/>
<circle cx="172.2" cy="974.2" r="14" fill="#fc8d59"/>
<circle cx="215.2" cy="1022.3" r="14" fill="#fc8d59"/>
<circle cx="222.2" cy="1025.3" r="14" fill="#fc8d59"/>
<circle cx="192.2" cy="1030.3" r="14" fill="#fc8d59"/>
<circle cx="244.7" cy="1066.7" r="14" fill="#fc8d59"/>
<circle cx="209.2" cy="1062.3" r="14" fill="#fc8d59"/>
<circle cx="200.2" cy="1046.3" r="14" fill="#fc8d59"/>
<circle cx="183.2" cy="1074.4" r="14" fill="#fc8d59"/>
<circle cx="227.3" cy="1095.4" r="14" fill="#fc8d59"/>
<circle cx="199.2" cy="1102.4" r="14" fill="#fc8d59"/>
<circle cx="208.2" cy="1108.4" r="14" fill="#fc8d59"/>
<circle cx="234.3" cy="1120.4" r="14" fill="#fc8d59"/>
<circle cx="226.3" cy="1130.5" r="14" fill="#fc8d59"/>
<circle cx="243.3" cy="1165.5" r="14" fill="#fc8d59"/>
<circle cx="240.3" cy="1150.5" r="14" fill="#fc8d59"/>
<circle cx="232.3" cy="1137.5" r="14" fill="#fc8d59"/>
<circle cx="268.3" cy="1168.5" r="14" fill="#fc8d59"/>
<circle cx="210.2" cy="1090.4" r="14" fill="#fee090"/>
<circle cx="214.2" cy="1127.4" r="14" fill="#fee090"/>
<circle cx="217.2" cy="1135.5" r="14" fill="#fee090"/>
<circle cx="240.3" cy="1136.5" r="14" fill="#fee090"/>
<circle cx="250.3" cy="1152.5" r="14" fill="#fee090"/>
<circle cx="267.3" cy="1156.5" r="14" fill="#fee090"/>
<circle cx="254.3" cy="1164.5" r="14" fill="#fee090"/>
<circle cx="272.3" cy="1174.5" r="14" fill="#fee090"/>
<circle cx="288.4" cy="1176.5" r="14" fill="#fee090"/>
<circle cx="278.3" cy="1184.5" r="14" fill="#fee090"/>
<circle cx="270.3" cy="1194.6" r="14" fill="#fee090"/>
<circle cx="277.0" cy="1174.0" r="14" fill="#fc8d59"/>
<circle cx="270.0" cy="1166.0" r="14" fill="#fc8d59"/>
<circle cx="348.2" cy="1259.2" r="14" fill="#fc8d59"/>
<circle cx="272.0" cy="1171.0" r="14" fill="#fee090"/>
<circle cx="277.0" cy="1196.1" r="14" fill="#fee090"/>
<circle cx="280.0" cy="1209.1" r="14" fill="#fee090"/>
<circle cx="286.0" cy="1218.1" r="14" fill="#fee090"/>
<circle cx="293.1" cy="1203.1" r="14" fill="#fee090"/>
<circle cx="300.1" cy="1212.1" r="14" fill="#fee090"/>
<circle cx="305.1" cy="1220.1" r="14" fill="#fee090"/>
<circle cx="307.1" cy="1230.1" r="14" fill="#fee090"/>
<circle cx="301.1" cy="1241.1" r="14" fill="#fee090"/>
<circle cx="305.1" cy="1243.1" r="14" fill="#fee090"/>
<circle cx="349.2" cy="1200.1" r="14" fill="#fee090"/>
<circle cx="357.6" cy="1224.1" r="14" fill="#fee090"/>
<circle cx="342.5" cy="1229.7" r="14" fill="#fee090"/>
<circle cx="350.2" cy="1252.2" r="14" fill="#fee090"/>
<circle cx="351.8" cy="1257.2" r="14" fill="#fee090"/>
<circle cx="359.2" cy="1271.2" r="14" fill="#fee090"/>
<circle cx="360.2" cy="1279.2" r="14" fill="#fee090"/>
<circle cx="349.2" cy="1285.6" r="14" fill="#fee090"/>
<circle cx="385.8" cy="1272.6" r="14" fill="#fee090"/>
<circle cx="384.2" cy="1282.2" r="14" fill="#fee090"/>
<circle cx="379.4" cy="1294.2" r="14" fill="#fee090"/>
<circle cx="423.3" cy="1277.8" r="14" fill="#fee090"/>
<circle cx="432.7" cy="1285.2" r="14" fill="#fee090"/>
<circle cx="433.3" cy="1287.2" r="14" fill="#fee090"/>
<circle cx="410.3" cy="1299.6" r="14" fill="#fee090"/>
<circle cx="416.9" cy="1305.3" r="14" fill="#fee090"/>
<circle cx="467.4" cy="1269.6" r="14" fill="#fee090"/>
<circle cx="502.8" cy="1303.6" r="14" fill="#fee090"/>
<circle cx="394.6" cy="1322.3" r="14" fill="#fee090"/>
<circle cx="448.3" cy="1313.9" r="14" fill="#fee090"/>
<circle cx="451.3" cy="1321.3" r="14" fill="#fee090"/>
<circle cx="457.3" cy="1326.3" r="14" fill="#fee090"/>
<circle cx="461.4" cy="1331.3" r="14" fill="#fee090"/>
<circle cx="462.4" cy="1335.3" r="14" fill="#fee090"/>
<circle cx="415.3" cy="1334.3" r="14" fill="#fee090"/>
<circle cx="414.3" cy="1338.3" r="14" fill="#fee090"/>
<circle cx="420.3" cy="1336.3" r="14" fill="#fee090"/>
<circle cx="429.3" cy="1337.3" r="14" fill="#fee090"/>
<circle cx="434.3" cy="1342.3" r="14" fill="#fee090"/>
<circle cx="438.9" cy="1347.3" r="14" fill="#fee090"/>
<circle cx="471.4" cy="1343.3" r="14" fill="#fee090"/>
<circle cx="478.8" cy="1366.8" r="14" fill="#fee090"/>
<circle cx="489.8" cy="1361.4" r="14" fill="#fee090"/>
<circle cx="496.4" cy="1368.4" r="14" fill="#fee090"/>
<circle cx="508.4" cy="1361.4" r="14" fill="#fee090"/>
<circle cx="509.4" cy="1364.4" r="14" fill="#fee090"/>
<circle cx="508.4" cy="1378.4" r="14" fill="#fee090"/>
<circle cx="543.5" cy="1350.3" r="14" fill="#fee090"/>
<circle cx="534.5" cy="1366.4" r="14" fill="#fee090"/>
<circle cx="520.5" cy="1377.4" r="14" fill="#fee090"/>
<circle cx="526.5" cy="1380.4" r="14" fill="#fee090"/>
<circle cx="525.5" cy="1388.4" r="14" fill="#fee090"/>
<circle cx="532.5" cy="1384.4" r="14" fill="#fee090"/>
<circle cx="539.5" cy="1389.4" r="14" fill="#fee090"/>
<circle cx="544.5" cy="1397.4" r="14" fill="#fee090"/>
<circle cx="548.5" cy="1400.4" r="14" fill="#fee090"/>
<circle cx="553.5" cy="1404.4" r="14" fill="#fee090"/>
<circle cx="572.9" cy="1385.4" r="14" fill="#fee090"/>
<circle cx="566.5" cy="1390.4" r="14" fill="#fee090"/>
<circle cx="565.5" cy="1410.4" r="14" fill="#fee090"/>
<circle cx="553.5" cy="1414.8" r="14" fill="#fee090"/>
<circle cx="564.5" cy="1415.4" r="14" fill="#fee090"/>
<circle cx="572.5" cy="1428.5" r="14" fill="#fee090"/>
<circle cx="584.6" cy="1421.5" r="14" fill="#fee090"/>
<circle cx="607.0" cy="1392.8" r="14" fill="#fee090"/>
<circle cx="626.6" cy="1404.4" r="14" fill="#fee090"/>
<circle cx="613.0" cy="1417.8" r="14" fill="#fee090"/>
<circle cx="609.6" cy="1433.5" r="14" fill="#fee090"/>
<circle cx="616.6" cy="1437.5" r="14" fill="#fee090"/>
<circle cx="640.7" cy="1432.1" r="14" fill="#fee090"/>
<circle cx="668.7" cy="1440.5" r="14" fill="#fee090"/>
<circle cx="628.2" cy="1451.5" r="14" fill="#fee090"/>
<circle cx="630.6" cy="1444.5" r="14" fill="#fee090"/>
<circle cx="636.7" cy="1445.5" r="14" fill="#fee090"/>
<circle cx="642.7" cy="1448.5" r="14" fill="#fee090"/>
<circle cx="650.7" cy="1452.5" r="14" fill="#fee090"/>
<circle cx="658.7" cy="1457.5" r="14" fill="#fee090"/>
<circle cx="666.7" cy="1459.5" r="14" fill="#fee090"/>
<circle cx="664.7" cy="1456.5" r="14" fill="#fee090"/>
<circle cx="690.3" cy="1459.9" r="14" fill="#fee090"/>
<circle cx="684.7" cy="1472.5" r="14" fill="#fee090"/>
<circle cx="693.8" cy="1469.5" r="14" fill="#fee090"/>
<circle cx="700.8" cy="1472.5" r="14" fill="#fee090"/>
<circle cx="728.8" cy="1479.6" r="14" fill="#fee090"/>
<circle cx="291.5" cy="1204.1" r="14" fill="#fee090"/>
<circle cx="298.1" cy="1211.1" r="14" fill="#fee090"/>
<circle cx="304.5" cy="1217.1" r="14" fill="#fee090"/>
<circle cx="307.1" cy="1224.1" r="14" fill="#fee090"/>
<circle cx="308.5" cy="1230.3" r="14" fill="#fee090"/>
<circle cx="313.1" cy="1181.0" r="14" fill="#fc8d59"/>
<circle cx="305.1" cy="1192.1" r="14" fill="#fc8d59"/>
<circle cx="295.7" cy="1180.0" r="14" fill="#fc8d59"/>
<circle cx="230.5" cy="563.0" r="14" fill="#fc8d59"/>
<circle cx="230.7" cy="564.6" r="14" fill="#fc8d59"/>
<circle cx="221.4" cy="571.7" r="14" fill="#fc8d59"/>
<circle cx="222.2" cy="577.0" r="14" fill="#fc8d59"/>
<circle cx="214.1" cy="583.9" r="14" fill="#fc8d59"/>
<circle cx="210.7" cy="586.7" r="14" fill="#fc8d59"/>
<circle cx="205.5" cy="595.6" r="14" fill="#fc8d59"/>
<circle cx="191.5" cy="604.4" r="14" fill="#fc8d59"/>
<circle cx="194.1" cy="614.4" r="14" fill="#fc8d59"/>
<circle cx="190.8" cy="615.8" r="14" fill="#fc8d59"/>
<circle cx="184.2" cy="619.6" r="14" fill="#fc8d59"/>
<circle cx="182.4" cy="629.9" r="14" fill="#fc8d59"/>
<circle cx="176.0" cy="635.8" r="14" fill="#fc8d59"/>
<circle cx="176.0" cy="646.5" r="14" fill="#fc8d59"/>
<circle cx="173.6" cy="649.1" r="14" fill="#fc8d59"/>
<circle cx="174.9" cy="654.9" r="14" fill="#fc8d59"/>
<circle cx="169.0" cy="656.7" r="14" fill="#fc8d59"/>
<circle cx="174.5" cy="663.3" r="14" fill="#fc8d59"/>
<circle cx="168.5" cy="666.2" r="14" fill="#fc8d59"/>
<circle cx="167.6" cy="669.6" r="14" fill="#fc8d59"/>
<circle cx="162.1" cy="673.6" r="14" fill="#fc8d59"/>
<circle cx="164.2" cy="676.7" r="14" fill="#fc8d59"/>
<circle cx="155.7" cy="679.2" r="14" fill="#fc8d59"/>
<circle cx="161.7" cy="686.6" r="14" fill="#fc8d59"/>
<circle cx="162.7" cy="691.5" r="14" fill="#fc8d59"/>
<circle cx="161.7" cy="692.9" r="14" fill="#fc8d59"/>
<circle cx="154.1" cy="693.5" r="14" fill="#fc8d59"/>
<circle cx="152.7" cy="696.8" r="14" fill="#fc8d59"/>
<circle cx="154.6" cy="701.7" r="14" fill="#fc8d59"/>
<circle cx="152.5" cy="708.8" r="14" fill="#fc8d59"/>
<circle cx="150.3" cy="710.7" r="14" fill="#fc8d59"/>
<circle cx="149.8" cy="713.3" r="14" fill="#fc8d59"/>
<circle cx="147.3" cy="713.4" r="14" fill="#fc8d59"/>
<circle cx="146.9" cy="716.4" r="14" fill="#fc8d59"/>
<circle cx="148.2" cy="720.7" r="14" fill="#fc8d59"/>
<circle cx="141.9" cy="720.8" r="14" fill="#fc8d59"/>
<circle cx="144.5" cy="724.6" r="14" fill="#fc8d59"/>
<circle cx="149.4" cy="729.1" r="14" fill="#fc8d59"/>
<circle cx="141.8" cy="729.8" r="14" fill="#fc8d59"/>
<circle cx="145.0" cy="732.9" r="14" fill="#fc8d59"/>
<circle cx="144.4" cy="734.7" r="14" fill="#fc8d59"/>
<circle cx="140.7" cy="737.5" r="14" fill="#fc8d59"/>
<circle cx="143.9" cy="741.9" r="14" fill="#fc8d59"/>
<circle cx="151.5" cy="745.2" r="14" fill="#fc8d59"/>
<circle cx="145.6" cy="747.2" r="14" fill="#fc8d59"/>
<circle cx="144.7" cy="750.5" r="14" fill="#fc8d59"/>
<circle cx="141.8" cy="751.0" r="14" fill="#fc8d59"/>
<circle cx="149.1" cy="756.4" r="14" fill="#fc8d59"/>
<circle cx="140.2" cy="756.1" r="14" fill="#fc8d59"/>
<circle cx="145.1" cy="760.2" r="14" fill="#fc8d59"/>
<circle cx="141.7" cy="762.1" r="14" fill="#fc8d59"/>
<circle cx="140.1" cy="767.3" r="14" fill="#fc8d59"/>
<circle cx="142.4" cy="769.5" r="14" fill="#fc8d59"/>
<circle cx="139.4" cy="772.3" r="14" fill="#fc8d59"/>
<circle cx="139.6" cy="776.0" r="14" fill="#fc8d59"/>
<circle cx="135.9" cy="777.5" r="14" fill="#fc8d59"/>
<circle cx="141.0" cy="780.1" r="14" fill="#fc8d59"/>
<circle cx="139.8" cy="783.3" r="14" fill="#fc8d59"/>
<circle cx="138.5" cy="786.7" r="14" fill="#fc8d59"/>
<circle cx="137.1" cy="790.4" r="14" fill="#fc8d59"/>
<circle cx="139.4" cy="791.6" r="14" fill="#fc8d59"/>
<circle cx="135.3" cy="795.8" r="14" fill="#fc8d59"/>
<circle cx="139.0" cy="799.1" r="14" fill="#fc8d59"/>
<circle cx="136.4" cy="799.3" r="14" fill="#fc8d59"/>
<circle cx="134.1" cy="804.3" r="14" fill="#fc8d59"/>
<circle cx="132.6" cy="805.5" r="14" fill="#fc8d59"/>
<circle cx="136.6" cy="808.6" r="14" fill="#fc8d59"/>
<circle cx="133.9" cy="810.6" r="14" fill="#fc8d59"/>
<circle cx="134.3" cy="814.9" r="14" fill="#fc8d59"/>
<circle cx="139.4" cy="816.6" r="14" fill="#fc8d59"/>
<circle cx="133.0" cy="821.1" r="14" fill="#fc8d59"/>
<circle cx="134.9" cy="824.3" r="14" fill="#fc8d59"/>
<circle cx="141.2" cy="827.2" r="14" fill="#fc8d59"/>
<circle cx="134.7" cy="829.1" r="14" fill="#fc8d59"/>
<circle cx="143.5" cy="832.1" r="14" fill="#fc8d59"/>
<circle cx="140.4" cy="835.5" r="14" fill="#fc8d59"/>
<circle cx="136.5" cy="837.6" r="14" fill="#fc8d59"/>
<circle cx="139.9" cy="840.1" r="14" fill="#fc8d59"/>
<circle cx="134.2" cy="844.1" r="14" fill="#fc8d59"/>
<circle cx="139.2" cy="847.5" r="14" fill="#fc8d59"/>
<circle cx="139.7" cy="847.8" r="14" fill="#fc8d59"/>
<circle cx="135.7" cy="851.5" r="14" fill="#fc8d59"/>
<circle cx="136.7" cy="853.9" r="14" fill="#fc8d59"/>
<circle cx="138.4" cy="857.0" r="14" fill="#fc8d59"/>
<circle cx="133.1" cy="859.2" r="14" fill="#fc8d59"/>
<circle cx="136.1" cy="862.3" r="14" fill="#fc8d59"/>
<circle cx="135.7" cy="865.4" r="14" fill="#fc8d59"/>
<circle cx="129.9" cy="868.1" r="14" fill="#fc8d59"/>
<circle cx="133.0" cy="871.6" r="14" fill="#fc8d59"/>
<circle cx="133.9" cy="874.4" r="14" fill="#fc8d59"/>
<circle cx="136.6" cy="877.8" r="14" fill="#fc8d59"/>
<circle cx="142.6" cy="882.0" r="14" fill="#fc8d59"/>
<circle cx="248.9" cy="570.0" r="14" fill="#fc8d59"/>
<circle cx="233.9" cy="591.7" r="14" fill="#fc8d59"/>
<circle cx="205.2" cy="609.1" r="14" fill="#fc8d59"/>
<circle cx="194.2" cy="635.7" r="14" fill="#fc8d59"/>
<circle cx="187.2" cy="656.6" r="14" fill="#fc8d59"/>
<circle cx="188.2" cy="691.2" r="14" fill="#fc8d59"/>
<circle cx="170.2" cy="700.2" r="14" fill="#fc8d59"/>
<circle cx="162.1" cy="751.9" r="14" fill="#fc8d59"/>
<circle cx="162.1" cy="751.9" r="14" fill="#fc8d59"/>
<circle cx="171.2" cy="796.4" r="14" fill="#fc8d59"/>
<circle cx="168.2" cy="835.9" r="14" fill="#fc8d59"/>
<circle cx="205.8" cy="866.9" r="14" fill="#fc8d59"/>
<circle cx="149.1" cy="777.4" r="14" fill="#fc8d59"/>
<circle cx="144.1" cy="810.4" r="14" fill="#fc8d59"/>
<circle cx="130.1" cy="825.5" r="14" fill="#fc8d59"/>
<circle cx="200.2" cy="586.0" r="14" fill="#fc8d59"/>
<circle cx="189.2" cy="606.1" r="14" fill="#fc8d59"/>
<circle cx="213.7" cy="560.5" r="14" fill="#fc8d59"/>
<circle cx="214.1" cy="568.6" r="14" fill="#fc8d59"/>
<circle cx="237.1" cy="554.5" r="14" fill="#fc8d59"/>
<circle cx="238.1" cy="560.5" r="14" fill="#fc8d59"/>
<circle cx="231.1" cy="562.5" r="14" fill="#fc8d59"/>
<circle cx="236.1" cy="531.5" r="14" fill="#fc8d59"/>
<circle cx="251.7" cy="527.5" r="14" fill="#fc8d59"/>
<circle cx="256.5" cy="530.5" r="14" fill="#fc8d59"/>
<circle cx="257.1" cy="532.5" r="14" fill="#fc8d59"/>
<circle cx="281.2" cy="517.5" r="14" fill="#fc8d59"/>
<circle cx="281.6" cy="520.5" r="14" fill="#fc8d59"/>
<circle cx="305.8" cy="506.4" r="14" fill="#fc8d59"/>
<circle cx="265.1" cy="495.4" r="14" fill="#fc8d59"/>
<circle cx="271.2" cy="486.0" r="14" fill="#fc8d59"/>
<circle cx="279.2" cy="490.4" r="14" fill="#fc8d59"/>
<circle cx="278.2" cy="492.4" r="14" fill="#fc8d59"/>
<circle cx="297.2" cy="479.4" r="14" fill="#fc8d59"/>
<circle cx="314.2" cy="480.4" r="14" fill="#fc8d59"/>
<circle cx="313.2" cy="471.4" r="14" fill="#fc8d59"/>
<circle cx="291.2" cy="463.4" r="14" fill="#fc8d59"/>
<circle cx="295.2" cy="464.4" r="14" fill="#fc8d59"/>
<circle cx="300.2" cy="459.4" r="14" fill="#fc8d59"/>
<circle cx="342.9" cy="465.4" r="14" fill="#fc8d59"/>
<circle cx="347.9" cy="449.3" r="14" fill="#fc8d59"/>
<circle cx="329.3" cy="444.7" r="14" fill="#fc8d59"/>
<circle cx="312.8" cy="440.3" r="14" fill="#fc8d59"/>
<circle cx="326.9" cy="431.7" r="14" fill="#fc8d59"/>
<circle cx="375.3" cy="447.3" r="14" fill="#fc8d59"/>
<circle cx="405.4" cy="431.7" r="14" fill="#fc8d59"/>
<circle cx="349.9" cy="425.9" r="14" fill="#fc8d59"/>
<circle cx="366.3" cy="415.9" r="14" fill="#fc8d59"/>
<circle cx="372.3" cy="422.3" r="14" fill="#fc8d59"/>
<circle cx="384.0" cy="410.7" r="14" fill="#fc8d59"/>
<circle cx="386.0" cy="400.7" r="14" fill="#fc8d59"/>
<circle cx="412.4" cy="358.6" r="14" fill="#fc8d59"/>
<circle cx="407.4" cy="370.8" r="14" fill="#fc8d59"/>
<circle cx="426.4" cy="370.2" r="14" fill="#fc8d59"/>
<circle cx="418.4" cy="381.8" r="14" fill="#fc8d59"/>
<circle cx="428.0" cy="395.3" r="14" fill="#fc8d59"/>
<circle cx="439.1" cy="389.2" r="14" fill="#fc8d59"/>
<circle cx="442.9" cy="365.8" r="14" fill="#fc8d59"/>
<circle cx="457.5" cy="337.6" r="14" fill="#fc8d59"/>
<circle cx="468.5" cy="330.1" r="14" fill="#fc8d59"/>
<circle cx="471.5" cy="342.2" r="14" fill="#fc8d59"/>
<circle cx="464.1" cy="357.8" r="14" fill="#fc8d59"/>
<circle cx="464.1" cy="357.8" r="14" fill="#fc8d59"/>
<circle cx="546.6" cy="298.1" r="14" fill="#fc8d59"/>
<circle cx="554.7" cy="299.1" r="14" fill="#fc8d59"/>
<circle cx="561.7" cy="297.1" r="14" fill="#fc8d59"/>
<circle cx="476.9" cy="321.1" r="14" fill="#fc8d59"/>
<circle cx="502.6" cy="324.1" r="14" fill="#fc8d59"/>
<circle cx="511.6" cy="321.1" r="14" fill="#fc8d59"/>
<circle cx="512.6" cy="322.1" r="14" fill="#fc8d59"/>
<circle cx="517.0" cy="342.2" r="14" fill="#fc8d59"/>
<circle cx="516.6" cy="297.7" r="14" fill="#fc8d59"/>
<circle cx="521.6" cy="294.1" r="14" fill="#fc8d59"/>
<circle cx="535.6" cy="302.1" r="14" fill="#fc8d59"/>
<circle cx="535.6" cy="308.1" r="14" fill="#fc8d59"/>
<circle cx="544.6" cy="296.1" r="14" fill="#fc8d59"/>
<circle cx="550.6" cy="299.1" r="14" fill="#fc8d59"/>
<circle cx="558.7" cy="298.1" r="14" fill="#fc8d59"/>
<circle cx="564.7" cy="293.1" r="14" fill="#fc8d59"/>
<circle cx="570.7" cy="296.1" r="14" fill="#fc8d59"/>
<circle cx="575.7" cy="308.1" r="14" fill="#fc8d59"/>
<circle cx="591.7" cy="300.1" r="14" fill="#fc8d59"/>
<circle cx="582.7" cy="290.1" r="14" fill="#fc8d59"/>
<circle cx="574.7" cy="273.6" r="14" fill="#fc8d59"/>
<circle cx="588.7" cy="280.1" r="14" fill="#fc8d59"/>
<circle cx="592.7" cy="275.0" r="14" fill="#fc8d59"/>
<circle cx="598.7" cy="282.1" r="14" fill="#fc8d59"/>
<circle cx="600.7" cy="284.1" r="14" fill="#fc8d59"/>
<circle cx="617.8" cy="262.0" r="14" fill="#fc8d59"/>
<circle cx="623.8" cy="267.0" r="14" fill="#fc8d59"/>
<circle cx="628.8" cy="268.0" r="14" fill="#fc8d59"/>
<circle cx="640.8" cy="250.0" r="14" fill="#fc8d59"/>
<circle cx="1758.8" cy="567.2" r="14" fill="#d73027"/>
<circle cx="1761.6" cy="572.6" r="14" fill="#d73027"/>
<circle cx="1763.9" cy="576.5" r="14" fill="#d73027"/>
<circle cx="1767.7" cy="580.0" r="14" fill="#d73027"/>
<circle cx="1768.4" cy="581.7" r="14" fill="#d73027"/>
<circle cx="1766.2" cy="591.2" r="14" fill="#d73027"/>
<circle cx="1779.6" cy="586.0" r="14" fill="#d73027"/>
<circle cx="1777.3" cy="590.2" r="14" fill="#d73027"/>
<circle cx="1780.8" cy="596.1" r="14" fill="#d73027"/>
<circle cx="1787.9" cy="596.4" r="14" fill="#d73027"/>
<circle cx="1786.2" cy="604.3" r="14" fill="#d73027"/>
<circle cx="1791.0" cy="605.6" r="14" fill="#d73027"/>
<circle cx="1790.8" cy="610.6" r="14" fill="#d73027"/>
<circle cx="1797.8" cy="611.4" r="14" fill="#d73027"/>
<circle cx="1801.8" cy="616.7" r="14" fill="#d73027"/>
<circle cx="1809.4" cy="613.5" r="14" fill="#d73027"/>
<circle cx="1809.5" cy="618.0" r="14" fill="#d73027"/>
<circle cx="1817.4" cy="617.7" r="14" fill="#d73027"/>
<circle cx="1819.3" cy="623.3" r="14" fill="#d73027"/>
<circle cx="1820.9" cy="623.6" r="14" fill="#d73027"/>
<circle cx="1840.7" cy="650.6" r="14" fill="#d73027"/>
<circle cx="1845.5" cy="653.5" r="14" fill="#d73027"/>
<circle cx="1852.9" cy="652.7" r="14" fill="#d73027"/>
<circle cx="1858.0" cy="663.9" r="14" fill="#d73027"/>
<circle cx="1863.2" cy="666.7" r="14" fill="#d73027"/>
<circle cx="1863.6" cy="670.6" r="14" fill="#d73027"/>
<circle cx="1868.3" cy="674.4" r="14" fill="#d73027"/>
<circle cx="1875.5" cy="683.4" r="14" fill="#d73027"/>
<circle cx="1878.8" cy="688.4" r="14" fill="#d73027"/>
<circle cx="1849.4" cy="612.4" r="14" fill="#d73027"/>
<circle cx="1851.4" cy="620.4" r="14" fill="#d73027"/>
<circle cx="1904.5" cy="718.6" r="14" fill="#d73027"/>
<circle cx="1907.5" cy="726.6" r="14" fill="#d73027"/>
<circle cx="1906.5" cy="722.6" r="14" fill="#d73027"/>
<circle cx="1676.1" cy="420.0" r="14" fill="#d73027"/>
<circle cx="1681.1" cy="425.0" r="14" fill="#d73027"/>
<circle cx="1650.1" cy="402.0" r="14" fill="#d73027"/>
<circle cx="1655.1" cy="400.0" r="14" fill="#d73027"/>
<circle cx="1888.7" cy="819.8" r="14" fill="#d73027"/>
<circle cx="1891.9" cy="824.6" r="14" fill="#d73027"/>
<circle cx="1894.7" cy="829.8" r="14" fill="#d73027"/>
<circle cx="1897.9" cy="835.2" r="14" fill="#d73027"/>
<circle cx="1900.7" cy="840.6" r="14" fill="#d73027"/>
<circle cx="1904.0" cy="846.3" r="14" fill="#d73027"/>
<circle cx="1906.8" cy="852.3" r="14" fill="#d73027"/>
<circle cx="1909.4" cy="857.9" r="14" fill="#d73027"/>
<circle cx="1911.4" cy="862.7" r="14" fill="#d73027"/>
<circle cx="1913.6" cy="867.1" r="14" fill="#d73027"/>
<circle cx="1915.4" cy="870.3" r="14" fill="#d73027"/>
<circle cx="1885.3" cy="919.4" r="14" fill="#d73027"/>
<circle cx="1922.4" cy="902.4" r="14" fill="#fee090"/>
<circle cx="1919.4" cy="910.4" r="14" fill="#fee090"/>
<circle cx="1917.4" cy="920.4" r="14" fill="#fee090"/>
<circle cx="1916.4" cy="940.4" r="14" fill="#fee090"/>
<circle cx="1914.4" cy="950.4" r="14" fill="#fee090"/>
<circle cx="1912.4" cy="958.4" r="14" fill="#fee090"/>
<circle cx="1910.4" cy="966.5" r="14" fill="#fee090"/>
<circle cx="1922.4" cy="784.1" r="14" fill="#fee090"/>
<circle cx="1926.4" cy="790.2" r="14" fill="#fee090"/>
<circle cx="1930.4" cy="816.2" r="14" fill="#fee090"/>
<circle cx="1933.4" cy="844.3" r="14" fill="#fee090"/>
<circle cx="1933.4" cy="849.3" r="14" fill="#fee090"/>
<circle cx="1881.3" cy="1015.5" r="14" fill="#fee090"/>
<circle cx="813.2" cy="1502.0" r="14" fill="#fee090"/>
<circle cx="824.2" cy="1501.0" r="14" fill="#fee090"/>
<circle cx="830.1" cy="1505.1" r="14" fill="#fee090"/>
<circle cx="836.0" cy="1505.5" r="14" fill="#fee090"/>
<circle cx="849.9" cy="1505.5" r="14" fill="#fee090"/>
<circle cx="851.7" cy="1505.0" r="14" fill="#fee090"/>
<circle cx="865.0" cy="1509.5" r="14" fill="#fee090"/>
<circle cx="875.8" cy="1512.8" r="14" fill="#fee090"/>
<circle cx="880.4" cy="1511.7" r="14" fill="#fee090"/>
<circle cx="898.5" cy="1515.7" r="14" fill="#fee090"/>
<circle cx="906.7" cy="1517.3" r="14" fill="#fee090"/>
<circle cx="910.1" cy="1518.8" r="14" fill="#fee090"/>
<circle cx="924.7" cy="1518.8" r="14" fill="#fee090"/>
<circle cx="1040.6" cy="1512.4" r="14" fill="#fee090"/>
<circle cx="1050.6" cy="1513.2" r="14" fill="#fee090"/>
<circle cx="1582.8" cy="1329.1" r="14" fill="#fee090"/>
<circle cx="1558.7" cy="1351.1" r="14" fill="#fee090"/>
</g>
<text x="884.8" y="82" font-size="55" letter-spacing="0.31">cellDancer</text>
<circle cx="2119.4" cy="782.4" r="19.5" fill="#d73027"/>
<text x="2209.7" y="795.9" font-size="49.7">s1</text>
<circle cx="2119.4" cy="855.4" r="19.5" fill="#fc8d59"/>
<text x="2209.7" y="868.9" font-size="49.7">s2</text>
<circle cx="2119.4" cy="928.5" r="19.5" fill="#fee090"/>
<text x="2209.7" y="942.0" font-size="49.7">s3</text>
</svg></body></html>
